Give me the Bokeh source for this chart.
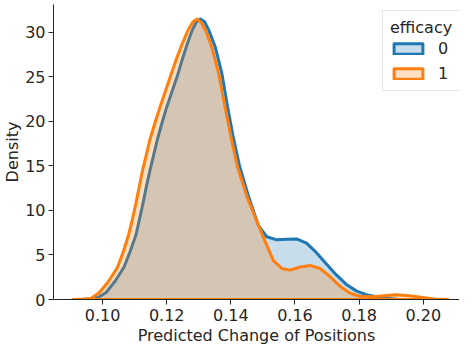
import math
from bokeh.plotting import figure
from bokeh.models import Range1d, FixedTicker, Legend, LegendItem
from bokeh.embed import file_html
from bokeh.resources import INLINE

# ---- data (KDE curves) ----
x_eff1 = [0.0907, 0.0943, 0.0965, 0.0990, 0.1018, 0.1047, 0.1065, 0.1081, 0.1093, 0.1104,
          0.1114, 0.1124, 0.1136, 0.1148, 0.1163, 0.1178, 0.1195, 0.1212, 0.1230, 0.1248,
          0.1267, 0.1282, 0.1295, 0.1308, 0.1322, 0.1341, 0.1362, 0.1380, 0.1399, 0.1420,
          0.1450, 0.1481, 0.1507, 0.1533, 0.1559, 0.1584, 0.1616, 0.1647, 0.1678, 0.1709,
          0.1740, 0.1771, 0.1802, 0.1843, 0.1885, 0.1916, 0.1957, 0.1998, 0.2035, 0.2077]
d_eff1 = [0.0, 0.05, 0.15, 0.79, 2.0, 3.65, 5.4, 7.24, 9.0, 10.8,
          12.6, 14.4, 16.2, 18.0, 19.8, 21.5, 23.3, 25.1, 27.0, 28.7,
          30.3, 31.2, 31.5, 31.1, 30.2, 28.3, 25.4, 22.0, 18.5, 15.0,
          11.6, 8.8, 6.5, 4.37, 3.48, 3.3, 3.65, 3.83, 3.48, 2.58,
          1.5, 0.72, 0.36, 0.3, 0.45, 0.54, 0.43, 0.22, 0.06, 0.0]

x_eff0 = [0.0930, 0.0965, 0.0990, 0.1011, 0.1040, 0.1067, 0.1086, 0.1104, 0.1115, 0.1126,
          0.1136, 0.1147, 0.1159, 0.1171, 0.1185, 0.1199, 0.1216, 0.1233, 0.1248, 0.1264,
          0.1280, 0.1293, 0.1305, 0.1318, 0.1332, 0.1352, 0.1372, 0.1388, 0.1406, 0.1427,
          0.1455, 0.1486, 0.1512, 0.1543, 0.1574, 0.1605, 0.1636, 0.1667, 0.1698, 0.1729,
          0.1760, 0.1791, 0.1822, 0.1853, 0.1885, 0.1920, 0.1950]
d_eff0 = [0.0, 0.05, 0.3, 0.79, 2.1, 3.65, 5.4, 7.24, 9.0, 10.8,
          12.6, 14.4, 16.2, 18.0, 19.8, 21.5, 23.3, 25.1, 26.9, 28.7,
          30.3, 31.2, 31.5, 31.2, 30.2, 28.3, 25.4, 22.0, 18.5, 15.0,
          11.6, 8.3, 7.05, 6.7, 6.76, 6.8, 6.33, 5.26, 4.0, 2.76,
          1.69, 0.97, 0.54, 0.3, 0.15, 0.04, 0.0]

hue_levels = ["0", "1"]
x_ticks = [0.10, 0.12, 0.14, 0.16, 0.18, 0.20]
x_tick_labels = ["0.10", "0.12", "0.14", "0.16", "0.18", "0.20"]
y_ticks = [0, 5, 10, 15, 20, 25, 30]
y_tick_labels = ["0", "5", "10", "15", "20", "25", "30"]

FONT = "DejaVu Sans"
TXT = "#262626"
BLUE = "#1f77b4"
ORANGE = "#ff7f0e"

p = figure(width=459, height=347, output_backend="svg", toolbar_location=None,
           x_range=Range1d(0.0847, 0.2113), y_range=Range1d(0, 33.14),
           min_border_left=45, min_border_right=0, min_border_top=4, min_border_bottom=30,
           x_axis_label="Predicted Change of Positions", y_axis_label="Density")
p.outline_line_color = None
p.grid.grid_line_color = None
p.background_fill_color = "white"
p.border_fill_color = "white"

for ax in (p.xaxis[0], p.yaxis[0]):
    ax.axis_line_color = TXT
    ax.axis_line_width = 1
    ax.major_tick_line_color = TXT
    ax.major_tick_out = 5
    ax.major_tick_in = 0
    ax.minor_tick_line_color = None
    ax.major_label_text_font = FONT
    ax.major_label_text_font_size = "16px"
    ax.major_label_text_color = TXT
    ax.axis_label_text_font = FONT
    ax.axis_label_text_font_size = "16px"
    ax.axis_label_text_font_style = "normal"
    ax.axis_label_text_color = TXT

p.xaxis.major_label_standoff = 4
p.xaxis.axis_label_standoff = 2
p.yaxis.major_label_standoff = 3
p.yaxis.axis_label_standoff = 0

p.xaxis.ticker = FixedTicker(ticks=x_ticks)
p.xaxis.major_label_overrides = {t: l for t, l in zip(x_ticks, x_tick_labels)}
p.yaxis.ticker = FixedTicker(ticks=y_ticks)
p.yaxis.major_label_overrides = {t: l for t, l in zip(y_ticks, y_tick_labels)}

r0 = p.patch(x_eff0 + [x_eff0[0]], d_eff0 + [0.0], fill_color=BLUE, fill_alpha=0.25,
             line_color=BLUE, line_width=3, line_join="round")
r1 = p.patch(x_eff1 + [x_eff1[0]], d_eff1 + [0.0], fill_color=ORANGE, fill_alpha=0.25,
             line_color=ORANGE, line_width=3, line_join="round")

legend = Legend(items=[LegendItem(label=hue_levels[0], renderers=[r0]),
                       LegendItem(label=hue_levels[1], renderers=[r1])],
                location=(329, 208), title="efficacy")
legend.title_text_font = FONT
legend.title_text_font_size = "16px"
legend.title_text_font_style = "normal"
legend.title_text_color = TXT
legend.title_standoff = 2
legend.label_text_font = FONT
legend.label_text_font_size = "16px"
legend.label_text_color = TXT
legend.glyph_width = 36
legend.glyph_height = 13
legend.label_height = 18
legend.label_width = 10
legend.label_standoff = 12
legend.spacing = 6
legend.padding = 7
legend.margin = 0
legend.border_line_color = "#cccccc"
legend.border_line_width = 1
legend.background_fill_color = "white"
legend.background_fill_alpha = 0.8
p.add_layout(legend)

open("out.html", "w").write(file_html(p, INLINE))
